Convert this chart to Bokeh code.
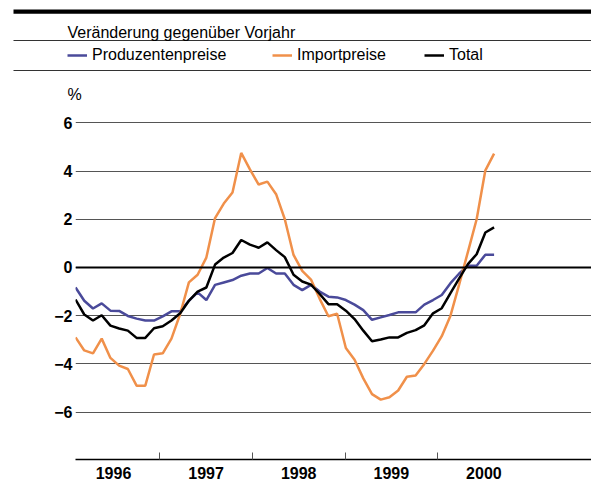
from bokeh.plotting import figure
from bokeh.layouts import column, row
from bokeh.models import (ColumnDataSource, FixedTicker, Legend, LegendItem, Span, Range1d)
from bokeh.core.properties import value
from bokeh.embed import file_html
from bokeh.resources import INLINE
import numpy as np

# ---- data ----
produzentenpreise = [-0.83, -1.38, -1.70, -1.49, -1.79, -1.80, -2.01, -2.12, -2.20, -2.20,
                     -2.03, -1.82, -1.82, -1.38, -1.03, -1.35, -0.72, -0.62, -0.52, -0.34,
                     -0.25, -0.25, -0.02, -0.25, -0.25, -0.72, -0.94, -0.72, -1.00, -1.21,
                     -1.24, -1.35, -1.54, -1.77, -2.17, -2.07, -1.97, -1.86, -1.86, -1.86,
                     -1.54, -1.35, -1.14, -0.65, -0.25, 0.07, 0.07, 0.53, 0.53]
importpreise = [-2.90, -3.44, -3.56, -2.95, -3.75, -4.07, -4.21, -4.90, -4.90, -3.61,
                -3.56, -2.95, -1.93, -0.62, -0.30, 0.41, 2.05, 2.65, 3.11, 4.75,
                4.07, 3.44, 3.56, 3.04, 2.00, 0.52, -0.14, -0.50, -1.30, -2.02,
                -1.92, -3.34, -3.83, -4.60, -5.25, -5.48, -5.38, -5.10, -4.53, -4.48,
                -4.00, -3.45, -2.85, -2.00, -0.70, 0.65, 2.00, 4.03, 4.72]
total = [-1.33, -1.95, -2.20, -1.98, -2.41, -2.53, -2.62, -2.92, -2.92, -2.52,
         -2.44, -2.20, -1.90, -1.38, -1.00, -0.83, 0.12, 0.41, 0.60, 1.14,
         0.95, 0.82, 1.04, 0.72, 0.43, -0.30, -0.58, -0.71, -1.10, -1.52,
         -1.52, -1.79, -2.14, -2.62, -3.06, -2.99, -2.90, -2.90, -2.71, -2.60,
         -2.40, -1.90, -1.69, -1.06, -0.45, 0.14, 0.55, 1.45, 1.66]
years = [1996, 1997, 1998, 1999, 2000]
y_ticks = [-6, -4, -2, 0, 2, 4, 6]
series_names = ["Produzentenpreise", "Importpreise", "Total"]
series_cols = ["p", "i", "t"]
colors = ["#4a4a9a", "#f0904a", "#000000"]
subtitle = "Veränderung gegenüber Vorjahr"
unit = "%"

# period covered by the series, in year units of the axis
period_start, period_end = 1996.09, 2000.61
x = np.linspace(period_start, period_end, len(total))
src = ColumnDataSource(dict(x=x, p=produzentenpreise, i=importpreise, t=total))

FONT = "Liberation Sans"
W = 591
HEAD_H = 112

# ---------------- header (subtitle, legend, unit) ----------------
h = figure(width=W, height=HEAD_H, output_backend="svg", toolbar_location=None,
           x_range=Range1d(0, W), y_range=Range1d(HEAD_H, 0),
           x_axis_type=None, y_axis_type=None,
           min_border_left=0, min_border_right=0, min_border_top=0, min_border_bottom=0)
h.outline_line_color = None
h.xgrid.visible = False
h.ygrid.visible = False
h.quad(left=[13], right=[W], top=[9], bottom=[13.3], fill_color="black", line_color=None)
h.segment(x0=[13, 13], x1=[W, W], y0=[40, 70], y1=[40, 70], line_color="#333333", line_width=1.2)
h.text(x=[67], y=[32], text=[subtitle], text_font=value(FONT), text_font_size="16px",
       text_baseline="alphabetic", text_color="black")
h.text(x=[67], y=[94], text=[unit], text_font=value(FONT), text_font_size="16px",
       text_baseline="alphabetic", text_color="black")
for name, sc, col, lx in zip(series_names, series_cols, colors, [67, 272, 424]):
    # the series fall outside this header's ranges; they only feed the legend swatch
    r = h.line("x", sc, source=src, line_color=col, line_width=2.5)
    lg = Legend(items=[LegendItem(label=name, renderers=[r])], location=(lx, HEAD_H - 64),
                orientation="horizontal", padding=0, margin=0, spacing=0,
                glyph_width=20, glyph_height=16, label_standoff=5,
                label_text_font=FONT, label_text_font_size="16px",
                label_text_color="black", border_line_color=None,
                background_fill_alpha=0)
    h.add_layout(lg)

# ---------------- chart ----------------
p = figure(frame_width=516, frame_height=459 - HEAD_H, output_backend="svg", toolbar_location=None,
           x_range=Range1d(1996.0896, 2001.662), y_range=Range1d(-7.963, 6.427),
           min_border_left=75, min_border_right=0, min_border_top=0, min_border_bottom=22)
p.outline_line_color = None

p.xgrid.grid_line_color = None
p.ygrid.ticker = FixedTicker(ticks=y_ticks)
p.ygrid.grid_line_color = "#555555"
p.ygrid.grid_line_width = 1.2
p.add_layout(Span(location=0, dimension="width", line_color="black", line_width=2))

p.yaxis.ticker = FixedTicker(ticks=y_ticks)
p.yaxis.major_label_overrides = {t: (("\u2212" + str(-t)) if t < 0 else str(t)) for t in y_ticks}
p.yaxis.axis_line_color = None
p.yaxis.major_tick_line_color = None
p.yaxis.major_tick_in = 0
p.yaxis.major_tick_out = 0
p.yaxis.minor_tick_line_color = None
p.yaxis.major_label_standoff = 3
p.yaxis.major_label_text_font = FONT
p.yaxis.major_label_text_font_style = "bold"
p.yaxis.major_label_text_font_size = "16px"
p.yaxis.major_label_text_color = "black"

p.xaxis.ticker = FixedTicker(ticks=[y + 0.5 for y in years], minor_ticks=years[1:])
p.xaxis.major_label_overrides = {y + 0.5: str(y) for y in years}
p.xaxis.major_tick_line_color = None
p.xaxis.major_tick_in = 0
p.xaxis.major_tick_out = 0
p.xaxis.minor_tick_line_color = "#555555"
p.xaxis.minor_tick_in = 7
p.xaxis.minor_tick_out = 0
p.xaxis.axis_line_color = "black"
p.xaxis.axis_line_width = 1.5
p.xaxis.axis_label_standoff = 0
p.xaxis.major_label_standoff = 7
p.xaxis.major_label_text_font = FONT
p.xaxis.major_label_text_font_style = "bold"
p.xaxis.major_label_text_font_size = "16px"
p.xaxis.major_label_text_color = "black"

for sc, col in zip(series_cols, colors):
    p.line("x", sc, source=src, line_color=col, line_width=2.5)

layout = column(row(h), row(p), spacing=0)
open("out.html", "w").write(file_html(layout, INLINE))
